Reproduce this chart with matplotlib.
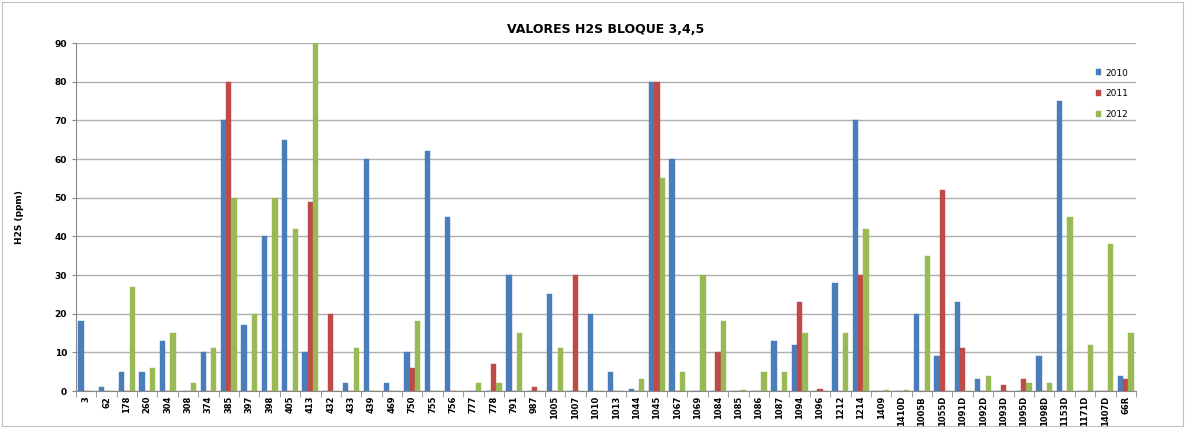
import matplotlib
matplotlib.use("Agg")
import matplotlib.pyplot as plt
import numpy as np
from matplotlib.patches import Rectangle

categories = ["3", "62", "178", "260", "304", "308", "374", "385", "397", "398",
              "405", "413", "432", "433", "439", "469", "750", "755", "756", "777",
              "778", "791", "987", "1005", "1007", "1010", "1013", "1044", "1045", "1067",
              "1069", "1084", "1085", "1086", "1087", "1094", "1096", "1212", "1214", "1409",
              "1410D", "1005B", "1055D", "1091D", "1092D", "1093D", "1095D", "1098D", "1153D", "1171D",
              "1407D", "66R"]

h2s_2010 = [18, 1, 5, 5, 13, 0, 10, 70, 17, 40,
            65, 10, 0, 2, 60, 2, 10, 62, 45, 0,
            0, 30, 0, 25, 0, 20, 5, 0.4, 80, 60,
            0, 0, 0, 0, 13, 12, 0, 28, 70, 0,
            0, 20, 9, 23, 3, 0, 0, 9, 75, 0,
            0, 4]
h2s_2011 = [0, 0, 0, 0, 0, 0, 0, 80, 0, 0,
            0, 49, 20, 0, 0, 0, 6, 0, 0, 0,
            7, 0, 1, 0, 30, 0, 0, 0, 80, 0,
            0, 10, 0, 0, 0, 23, 0.5, 0, 30, 0,
            0, 0, 52, 11, 0, 1.5, 3, 0, 0, 0,
            0, 3]
h2s_2012 = [0, 0, 27, 6, 15, 2, 11, 50, 20, 50,
            42, 90, 0, 11, 0, 0, 18, 0, 0, 2,
            2, 15, 0, 11, 0, 0, 0, 3, 55, 5,
            30, 18, 0.3, 5, 5, 15, 0, 15, 42, 0.3,
            0.3, 35, 0, 0, 4, 0, 2, 2, 45, 12,
            38, 15]

series = [("2010", h2s_2010, "#4A7EBB"),
          ("2011", h2s_2011, "#BE4B48"),
          ("2012", h2s_2012, "#98B954")]

fig = plt.figure(figsize=(11.85, 4.28), dpi=100)
ax = fig.add_axes([0.0641, 0.0864, 0.8945, 0.8131])

x = np.arange(len(categories))
width = 0.26
for i, (name, vals, color) in enumerate(series):
    ax.bar(x + (i - 1) * width, vals, width, color=color, label=name,
           edgecolor=color, linewidth=0.3, zorder=3)

ax.set_xlim(-0.5, len(categories) - 0.5)
ax.set_ylim(0, 90)
ax.set_yticks(np.arange(0, 91, 10))
ax.yaxis.grid(True, color="#AFAFAF", linewidth=1.0, zorder=0)
ax.set_axisbelow(True)

ax.set_xticks(x)
ax.set_xticklabels(categories, rotation=90, fontsize=6, fontweight="bold")
ax.tick_params(axis="y", labelsize=6.5, length=3, color="#888888")
for lbl in ax.get_yticklabels():
    lbl.set_fontweight("bold")
ax.set_xticks(np.arange(-0.5, len(categories), 1), minor=True)
ax.tick_params(axis="x", which="minor", length=4, color="#888888")
ax.tick_params(axis="x", which="major", length=0)

for side in ("top", "right"):
    ax.spines[side].set_visible(False)
for side in ("left", "bottom"):
    ax.spines[side].set_color("#888888")

ax.set_ylabel("H2S (ppm)", fontsize=6.5, fontweight="bold", labelpad=22)
ax.set_title("VALORES H2S BLOQUE 3,4,5", fontsize=9, fontweight="bold", pad=7)

leg = ax.legend(loc="upper right", bbox_to_anchor=(1.0, 0.95), frameon=False,
                fontsize=6.5, handlelength=0.6, handleheight=0.6,
                handletextpad=0.4, labelspacing=1.3)

fig.patches.append(Rectangle((0.002, 0.004), 0.996, 0.992, transform=fig.transFigure,
                             fill=False, edgecolor="#BFBFBF", linewidth=0.8))

fig.savefig("out.png", dpi=100)
